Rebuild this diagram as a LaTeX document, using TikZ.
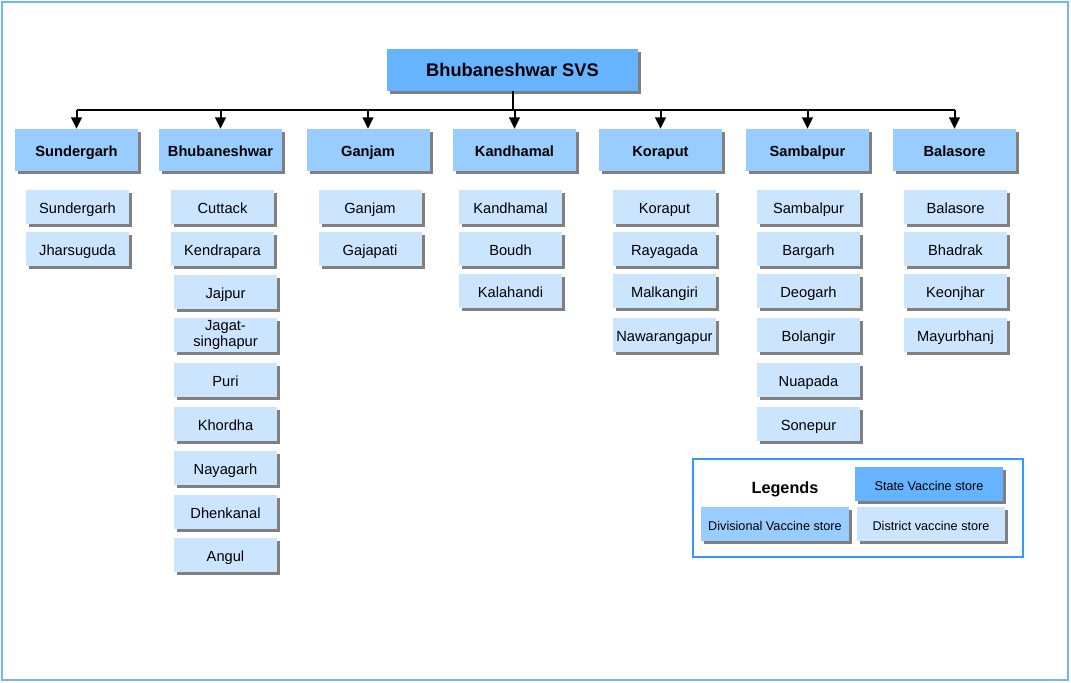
\documentclass[tikz,border=0pt]{standalone}
\usepackage{fontspec}
\setmainfont{Liberation Sans}
\usetikzlibrary{shadows,arrows.meta}

\definecolor{statefill}{RGB}{102,179,255}
\definecolor{divfill}{RGB}{153,204,255}
\definecolor{distfill}{RGB}{204,229,255}
\definecolor{framecol}{RGB}{112,182,255}
\definecolor{legendframe}{RGB}{51,153,255}
\definecolor{shadowgray}{RGB}{128,128,128}

\tikzset{
  boxbase/.style={rectangle, inner sep=0pt, align=center,
    text height=0.93em, text depth=0pt,
    drop shadow={shadow xshift=2.6pt, shadow yshift=-2.6pt, fill=shadowgray, opacity=1}},
  statebox/.style={boxbase, fill=statefill, minimum width=188.25pt, minimum height=31.5pt,
    font=\fontsize{13.7pt}{15pt}\selectfont\bfseries},
  divbox/.style={boxbase, fill=divfill, minimum width=92.25pt, minimum height=31.5pt,
    font=\fontsize{11pt}{12pt}\selectfont\bfseries},
  distbox/.style={boxbase, fill=distfill, minimum width=77.25pt, minimum height=25.5pt,
    font=\fontsize{11pt}{12pt}\selectfont},
  twoline/.style={text height=, text depth=},
  legbox/.style={boxbase, minimum width=111pt, minimum height=25.5pt,
    font=\fontsize{9.5pt}{11pt}\selectfont},
  link/.style={line width=1.5pt, black},
  arrowlink/.style={link, -{Triangle[width=8pt,length=8.5pt]}},
}

\begin{document}
\begin{tikzpicture}[x=0.75pt, y=-0.75pt]
  % page area and outer frame
  \useasboundingbox (0,0) rectangle (1071,682);
  \draw[framecol, line width=1.5pt] (2,2) rectangle (1068,680);

  % state store
  \node[statebox] (svs) at (512.5,70) {Bhubaneshwar SVS};

  % divisional stores
  \node[divbox] (d1) at (76.5,150)  {Sundergarh};
  \node[divbox] (d2) at (220.5,150) {Bhubaneshwar};
  \node[divbox] (d3) at (368,150)   {Ganjam};
  \node[divbox] (d4) at (514.5,150) {Kandhamal};
  \node[divbox] (d5) at (660.5,150) {Koraput};
  \node[divbox] (d6) at (807.5,150) {Sambalpur};
  \node[divbox] (d7) at (954.5,150) {Balasore};

  % distribution bus
  \coordinate (bus) at (0,110);
  \draw[link] (svs.south) -- (svs.south |- bus);
  \draw[link] (d1 |- bus) -- (d7 |- bus);
  \foreach \d in {d1,d2,d3,d4,d5,d6,d7}
    \draw[arrowlink] (\d |- bus) -- (\d.north);

  % district stores: Sundergarh division
  \node[distbox] (s1) at (77.5,207) {Sundergarh};
  \node[distbox] (s2) at (77.5,249) {Jharsuguda};

  % Bhubaneshwar division
  \node[distbox] (b1) at (222.5,207) {Cuttack};
  \node[distbox] (b2) at (222.5,249) {Kendrapara};
  \node[distbox] (b3) at (225.5,292) {Jajpur};
  \node[distbox, twoline] (b4) at (225.5,335) {Jagat-\\singhapur};
  \node[distbox] (b5) at (225.5,380) {Puri};
  \node[distbox] (b6) at (225.5,424) {Khordha};
  \node[distbox] (b7) at (225.5,468) {Nayagarh};
  \node[distbox] (b8) at (225.5,512) {Dhenkanal};
  \node[distbox] (b9) at (225.5,555) {Angul};

  % Ganjam division
  \node[distbox] (g1) at (370,207) {Ganjam};
  \node[distbox] (g2) at (370,249) {Gajapati};

  % Kandhamal division
  \node[distbox] (k1) at (510.5,207) {Kandhamal};
  \node[distbox] (k2) at (510.5,249) {Boudh};
  \node[distbox] (k3) at (510.5,291) {Kalahandi};

  % Koraput division
  \node[distbox] (r1) at (664.5,207) {Koraput};
  \node[distbox] (r2) at (664.5,249) {Rayagada};
  \node[distbox] (r3) at (664.5,291) {Malkangiri};
  \node[distbox] (r4) at (664.5,335) {Nawarangapur};

  % Sambalpur division
  \node[distbox] (p1) at (808.5,207) {Sambalpur};
  \node[distbox] (p2) at (808.5,249) {Bargarh};
  \node[distbox] (p3) at (808.5,291) {Deogarh};
  \node[distbox] (p4) at (808.5,335) {Bolangir};
  \node[distbox] (p5) at (808.5,380) {Nuapada};
  \node[distbox] (p6) at (808.5,424) {Sonepur};

  % Balasore division
  \node[distbox] (l1) at (955.5,207) {Balasore};
  \node[distbox] (l2) at (955.5,249) {Bhadrak};
  \node[distbox] (l3) at (955.5,291) {Keonjhar};
  \node[distbox] (l4) at (955.5,335) {Mayurbhanj};

  % legend
  \draw[legendframe, line width=1.5pt] (693,459) rectangle (1023,557);
  \node[font=\fontsize{12.2pt}{14pt}\selectfont\bfseries, text height=0.93em, text depth=0pt, inner sep=0pt]
    (legtitle) at (785,487) {Legends};
  \node[legbox, fill=statefill] (legstate) at (929,484) {State Vaccine store};
  \node[legbox, fill=divfill]  (legdiv)   at (775,524) {Divisional Vaccine store};
  \node[legbox, fill=distfill] (legdist)  at (931,524) {District vaccine store};
\end{tikzpicture}
\end{document}
